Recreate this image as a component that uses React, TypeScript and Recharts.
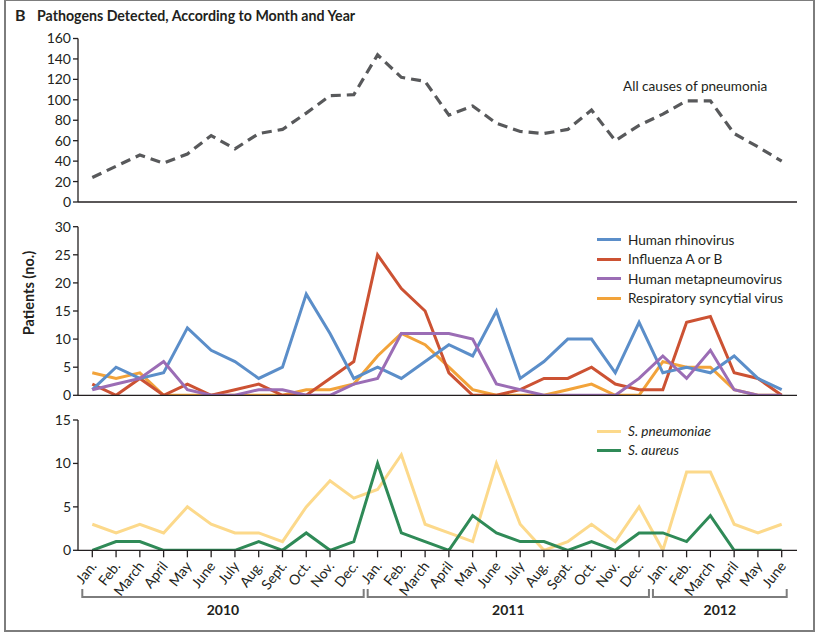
import React from 'react';
import { LineChart, Line, XAxis, YAxis } from 'recharts';

const monthLabels = [
  'Jan.', 'Feb.', 'March', 'April', 'May', 'June', 'July', 'Aug.', 'Sept.', 'Oct.', 'Nov.', 'Dec.',
  'Jan.', 'Feb.', 'March', 'April', 'May', 'June', 'July', 'Aug.', 'Sept.', 'Oct.', 'Nov.', 'Dec.',
  'Jan.', 'Feb.', 'March', 'April', 'May', 'June',
];
const years = ['2010', '2011', '2012'];
const yearStartIdx = [0, 12, 24];
const yearEndIdx = [11, 23, 29];

const allCauses = [24, 35, 46, 38, 47, 65, 52, 67, 71, 87, 104, 105, 144, 122, 118, 85, 94, 77, 69, 67, 71, 90, 60, 75, 86, 99, 99, 67, 54, 40];
const rhinovirus = [1, 5, 3, 4, 12, 8, 6, 3, 5, 18, 11, 3, 5, 3, 6, 9, 7, 15, 3, 6, 10, 10, 4, 13, 4, 5, 4, 7, 3, 1];
const influenza = [2, 0, 3, 0, 2, 0, 1, 2, 0, 0, 3, 6, 25, 19, 15, 4, 0, 0, 1, 3, 3, 5, 2, 1, 1, 13, 14, 4, 3, 0];
const metapneumovirus = [1, 2, 3, 6, 1, 0, 0, 1, 1, 0, 0, 2, 3, 11, 11, 11, 10, 2, 1, 0, 0, 0, 0, 3, 7, 3, 8, 1, 0, 0];
const rsv = [4, 3, 4, 0, 0, 0, 0, 0, 0, 1, 1, 2, 7, 11, 9, 5, 1, 0, 0, 0, 1, 2, 0, 0, 6, 5, 5, 1, 0, 0];
const sPneumoniae = [3, 2, 3, 2, 5, 3, 2, 2, 1, 5, 8, 6, 7, 11, 3, 2, 1, 10, 3, 0, 1, 3, 1, 5, 0, 9, 9, 3, 2, 3];
const sAureus = [0, 1, 1, 0, 0, 0, 0, 1, 0, 2, 0, 1, 10, 2, 1, 0, 4, 2, 1, 1, 0, 1, 0, 2, 2, 1, 4, 0, 0, 0];

const topTicks = [0, 20, 40, 60, 80, 100, 120, 140, 160];
const midTicks = [0, 5, 10, 15, 20, 25, 30];
const botTicks = [0, 5, 10, 15];

const data = monthLabels.map((m, i) => ({
  idx: i,
  month: m,
  allCauses: allCauses[i],
  rhinovirus: rhinovirus[i],
  influenza: influenza[i],
  metapneumovirus: metapneumovirus[i],
  rsv: rsv[i],
  sPneumoniae: sPneumoniae[i],
  sAureus: sAureus[i],
}));

const virusSeries = [
  { key: 'rhinovirus', name: 'Human rhinovirus', color: '#5b8ec9' },
  { key: 'influenza', name: 'Influenza A or B', color: '#cc5233' },
  { key: 'metapneumovirus', name: 'Human metapneumovirus', color: '#9b6db5' },
  { key: 'rsv', name: 'Respiratory syncytial virus', color: '#f2a33a' },
];
const virusDrawOrder = ['rsv', 'influenza', 'rhinovirus', 'metapneumovirus'];
const bactSeries = [
  { key: 'sPneumoniae', name: 'S. pneumoniae', color: '#fcd98b' },
  { key: 'sAureus', name: 'S. aureus', color: '#2f8a57' },
];

const FONT = 'Lato, "Open Sans", sans-serif';
const INK = '#231f20';
const W = 819;
const PLOT_LEFT = 78;
const PLOT_RIGHT = 797;
const PAD_L = 14.3;
const PAD_R = 15.3;
const STEP = (PLOT_RIGHT - PLOT_LEFT - PAD_L - PAD_R) / (monthLabels.length - 1);
const xOf = (i: number) => PLOT_LEFT + PAD_L + i * STEP;

const yTick = { fontSize: 14, fill: INK, fontFamily: FONT };

const MonthTick = (props: any) => {
  const { x, y, payload } = props;
  const ax = x + 5;
  const ay = y + 9;
  return (
    <text
      x={ax}
      y={ay}
      transform={`rotate(-52, ${ax}, ${ay})`}
      textAnchor="end"
      fontSize={14}
      fontFamily={FONT}
      fill={INK}
    >
      {monthLabels[payload.value]}
    </text>
  );
};

const commonX = (extra: any) => (
  <XAxis
    dataKey="idx"
    type="category"
    interval={0}
    padding={{ left: PAD_L, right: PAD_R }}
    axisLine={{ stroke: INK, strokeWidth: 1.3 }}
    tickLine={{ stroke: INK, strokeWidth: 1.3 }}
    tickSize={7}
    {...extra}
  />
);

const commonY = (domain: number[], ticks: number[]) => (
  <YAxis
    width={PLOT_LEFT}
    domain={domain}
    ticks={ticks}
    interval={0}
    type="number"
    allowDataOverflow
    axisLine={{ stroke: INK, strokeWidth: 1.3 }}
    tickLine={{ stroke: INK, strokeWidth: 1.3 }}
    tickSize={5}
    tickMargin={2}
    tick={yTick}
  />
);

export default function App() {
  return (
    <div
      style={{
        position: 'absolute',
        left: 0,
        top: 0,
        width: W,
        height: 636,
        background: '#fff',
        fontFamily: FONT,
        color: INK,
        overflow: 'hidden',
      }}
    >
      {/* frame */}
      <div
        style={{
          position: 'absolute',
          left: 4,
          top: -1,
          width: 807,
          height: 629,
          border: '2px solid #7d7d7d',
          boxSizing: 'content-box',
        }}
      />
      {/* title */}
      <div style={{ position: 'absolute', left: 15, top: 5, fontSize: 16, fontWeight: 700, lineHeight: '20px' }}>B</div>
      <div style={{ position: 'absolute', left: 37, top: 6, fontSize: 14.2, fontWeight: 700, lineHeight: '20px', whiteSpace: 'nowrap' }}>
        Pathogens Detected, According to Month and Year
      </div>

      {/* top panel */}
      <div style={{ position: 'absolute', left: 0, top: 0 }}>
        <LineChart width={W} height={215} data={data} margin={{ top: 38.5, right: W - PLOT_RIGHT, bottom: 0, left: 0 }}>
          {commonX({ height: 13, tick: false })}
          {commonY([0, 160], topTicks)}
          <Line
            dataKey="allCauses"
            type="linear"
            stroke="#58595b"
            strokeWidth={3.2}
            strokeDasharray="10 6"
            dot={false}
            isAnimationActive={false}
          />
        </LineChart>
      </div>
      <div style={{ position: 'absolute', left: 623, top: 76, fontSize: 13.6, lineHeight: '20px', whiteSpace: 'nowrap' }}>
        All causes of pneumonia
      </div>

      {/* middle panel */}
      <div style={{ position: 'absolute', left: 0, top: 210 }}>
        <LineChart width={W} height={200} data={data} margin={{ top: 16.7, right: W - PLOT_RIGHT, bottom: 0, left: 0 }}>
          {commonX({ height: 14.7, tick: false })}
          {commonY([0, 30], midTicks)}
          {virusDrawOrder.map((k) => {
            const s = virusSeries.find((v) => v.key === k)!;
            return (
              <Line
                key={k}
                dataKey={k}
                type="linear"
                stroke={s.color}
                strokeWidth={3}
                dot={false}
                isAnimationActive={false}
              />
            );
          })}
        </LineChart>
      </div>
      {virusSeries.map((s, i) => (
        <div key={s.key} style={{ position: 'absolute', left: 597, top: 229.5 + i * 19.6, height: 20, display: 'flex', alignItems: 'center', whiteSpace: 'nowrap' }}>
          <div style={{ width: 24, height: 3, background: s.color, marginRight: 7 }} />
          <span style={{ fontSize: 13.6 }}>{s.name}</span>
        </div>
      ))}

      {/* bottom panel */}
      <div style={{ position: 'absolute', left: 0, top: 400 }}>
        <LineChart width={W} height={236} data={data} margin={{ top: 20, right: W - PLOT_RIGHT, bottom: 0, left: 0 }}>
          {commonX({ height: 85.7, tick: <MonthTick />, tickMargin: 0 })}
          {commonY([0, 15], botTicks)}
          {bactSeries.map((s) => (
            <Line
              key={s.key}
              dataKey={s.key}
              type="linear"
              stroke={s.color}
              strokeWidth={3}
              dot={false}
              isAnimationActive={false}
            />
          ))}
        </LineChart>
      </div>
      {bactSeries.map((s, i) => (
        <div key={s.key} style={{ position: 'absolute', left: 597, top: 421 + i * 19.3, height: 20, display: 'flex', alignItems: 'center', whiteSpace: 'nowrap' }}>
          <div style={{ width: 24, height: 3, background: s.color, marginRight: 7 }} />
          <span style={{ fontSize: 13.6, fontStyle: 'italic' }}>{s.name}</span>
        </div>
      ))}

      {/* overlay: y label, year brackets */}
      <svg width={W} height={636} style={{ position: 'absolute', left: 0, top: 0, pointerEvents: 'none' }}>
        <text
          x={28}
          y={293}
          transform="rotate(-90, 28, 293)"
          textAnchor="middle"
          dominantBaseline="central"
          fontSize={14.5}
          fontWeight={700}
          fontFamily={FONT}
          fill={INK}
        >
          Patients (no.)
        </text>
        {years.map((yr, k) => {
          const s = yearStartIdx[k];
          const e = yearEndIdx[k];
          const x1 = s === 0 ? xOf(s) - 10 : (xOf(s - 1) + xOf(s)) / 2 + 2;
          const x2 = e === monthLabels.length - 1 ? xOf(e) + 5 : (xOf(e) + xOf(e + 1)) / 2 - 2;
          return (
            <g key={yr}>
              <path d={`M${x1},589 L${x1},597 L${x2},597 L${x2},589`} fill="none" stroke="#7d7d7d" strokeWidth={2} />
              <text
                x={(x1 + x2) / 2}
                y={609}
                textAnchor="middle"
                dominantBaseline="central"
                fontSize={14}
                fontWeight={700}
                fontFamily={FONT}
                fill={INK}
              >
                {yr}
              </text>
            </g>
          );
        })}
      </svg>
    </div>
  );
}
